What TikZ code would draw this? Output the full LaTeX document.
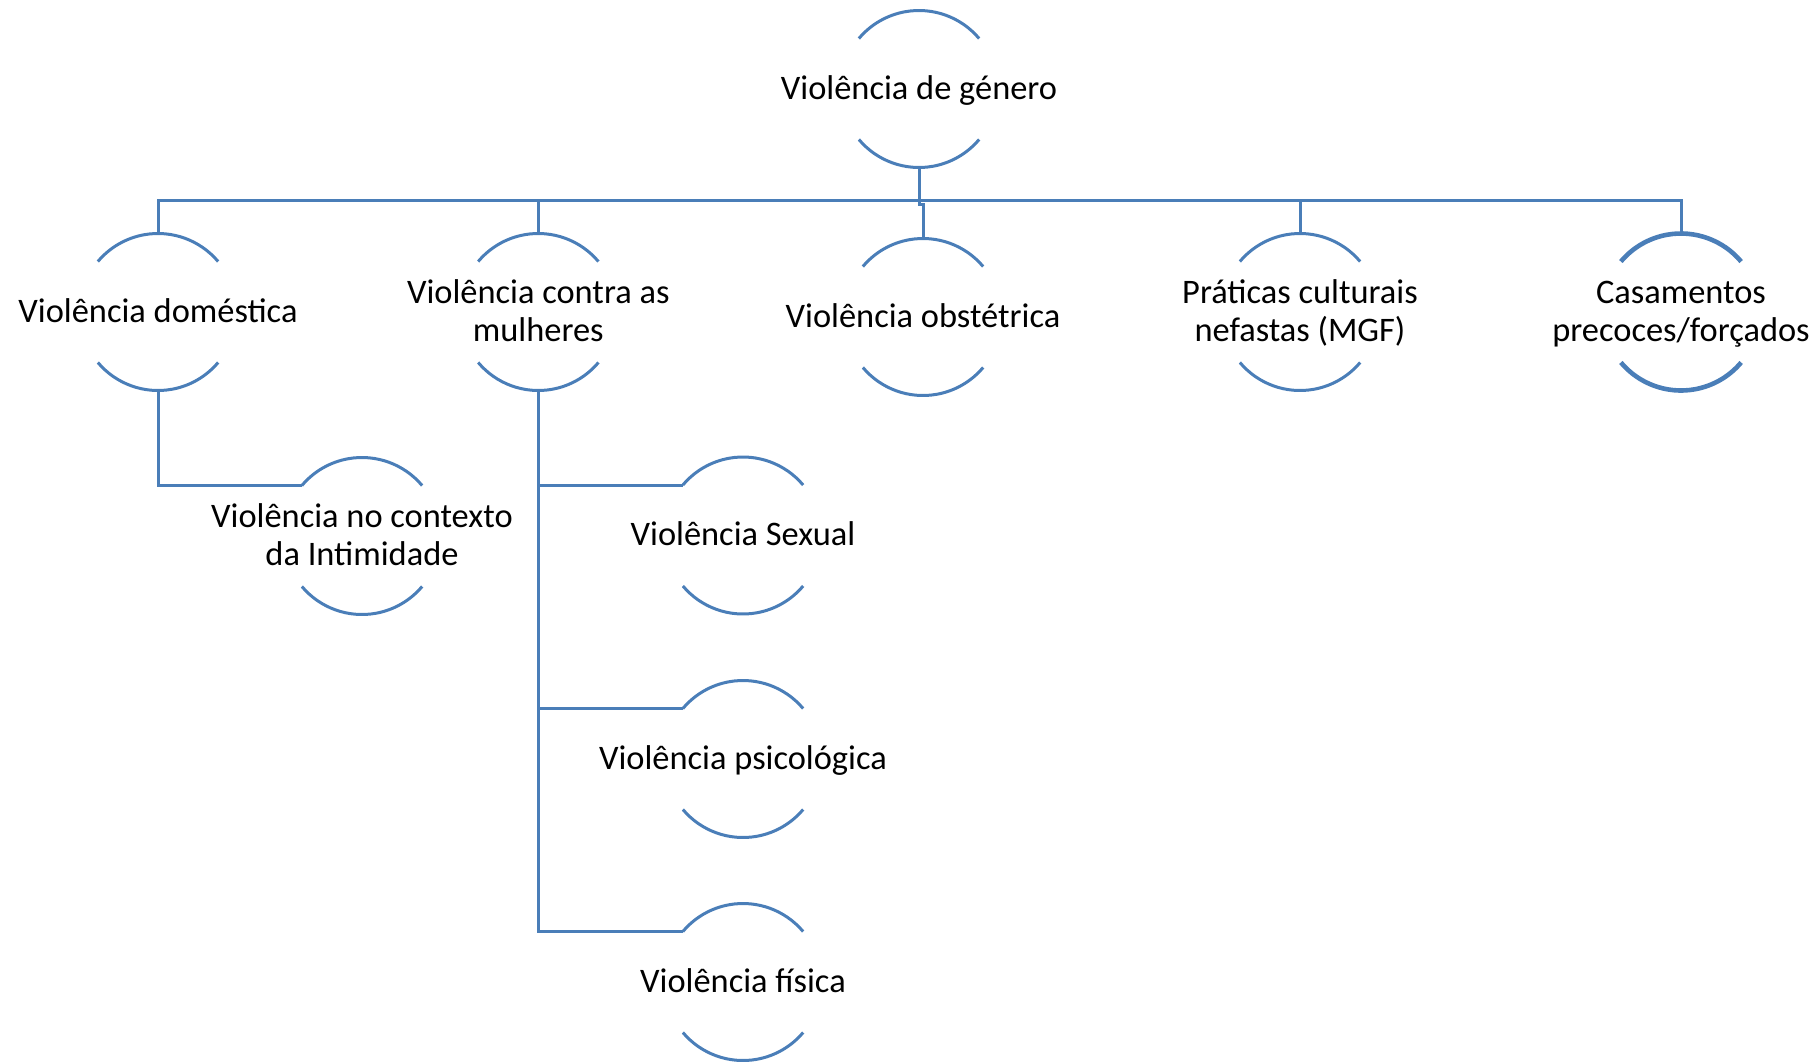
\documentclass[tikz,border=0pt]{standalone}
\usepackage{fontspec}
\setmainfont{Carlito}
\usetikzlibrary{calc}
\definecolor{lineblue}{RGB}{74,126,184}
\newcommand\ringarcs[2][1.5pt]{%
  \draw[draw=lineblue,line width=#1] (#2.40) arc[start angle=40,end angle=140,radius=39.25pt];
  \draw[draw=lineblue,line width=#1] (#2.220) arc[start angle=220,end angle=320,radius=39.25pt];}
\newcommand\twolines[2]{\begin{tabular}[t]{@{}c@{}}#1\\#2\end{tabular}}
\begin{document}
\begin{tikzpicture}[x=0.5pt,y=0.5pt,
  ring/.style={circle,minimum size=78.5pt,inner sep=0pt,outer sep=0pt},
  conn/.style={draw=lineblue,line width=1.5pt},
  lblone/.style={anchor=base,inner sep=0pt,font=\fontsize{17.2}{19}\selectfont,text=black,yshift=-5.1pt},
  lbltwo/.style={anchor=base,inner sep=0pt,font=\fontsize{17.2}{19}\selectfont,text=black,yshift=4.3pt}]
\useasboundingbox (0,0) rectangle (1820,-1061);
% ring nodes
\node[ring] (top) at (919,-89) {};
\node[ring] (dom) at (158,-312) {};
\node[ring] (con) at (538.3,-312) {};
\node[ring] (obs) at (923,-317) {};
\node[ring] (pra) at (1300,-312) {};
\node[ring] (cas) at (1681,-312) {};
\node[ring] (int) at (362,-536) {};
\node[ring] (sex) at (743,-535.5) {};
\node[ring] (psi) at (743,-759) {};
\node[ring] (fis) at (743,-982) {};
% arcs
\ringarcs{top}
\ringarcs{dom}
\ringarcs{con}
\ringarcs{obs}
\ringarcs{pra}
\ringarcs[2.3pt]{cas}
\ringarcs{int}
\ringarcs{sex}
\ringarcs{psi}
\ringarcs{fis}
% texts
\node[lblone] (tTop) at (top) {Violência de género};
\node[lblone] (tDom) at (dom) {Violência doméstica};
\node[lbltwo] (tCon) at (con) {\twolines{Violência contra as}{mulheres}};
\node[lblone] (tObs) at (obs) {Violência obstétrica};
\node[lbltwo] (tPra) at (pra) {\twolines{Práticas culturais}{nefastas (MGF)}};
\node[lbltwo] (tCas) at (cas) {\twolines{Casamentos}{precoces/forçados}};
\node[lbltwo] (tInt) at (int) {\twolines{Violência no contexto}{da Intimidade}};
\node[lblone] (tSex) at (sex) {Violência Sexual};
\node[lblone] (tPsi) at (psi) {Violência psicológica};
\node[lblone] (tFis) at (fis) {Violência física};
% connectors
\coordinate (bus) at (0,-200.7);
\coordinate (jog) at (919,-204);
\draw[conn] (dom.north) |- (bus -| cas.north) -- (cas.north);
\draw[conn] (con.north) -- (con.north |- bus);
\draw[conn] (pra.north) -- (pra.north |- bus);
\draw[conn] (top.south) -- (jog) -| (obs.north);
\draw[conn] (dom.south) |- (int.140);
\draw[conn] (con.south) |- (sex.140);
\draw[conn] (con.south) |- (psi.140);
\draw[conn] (con.south) |- (fis.140);
\end{tikzpicture}
\end{document}
